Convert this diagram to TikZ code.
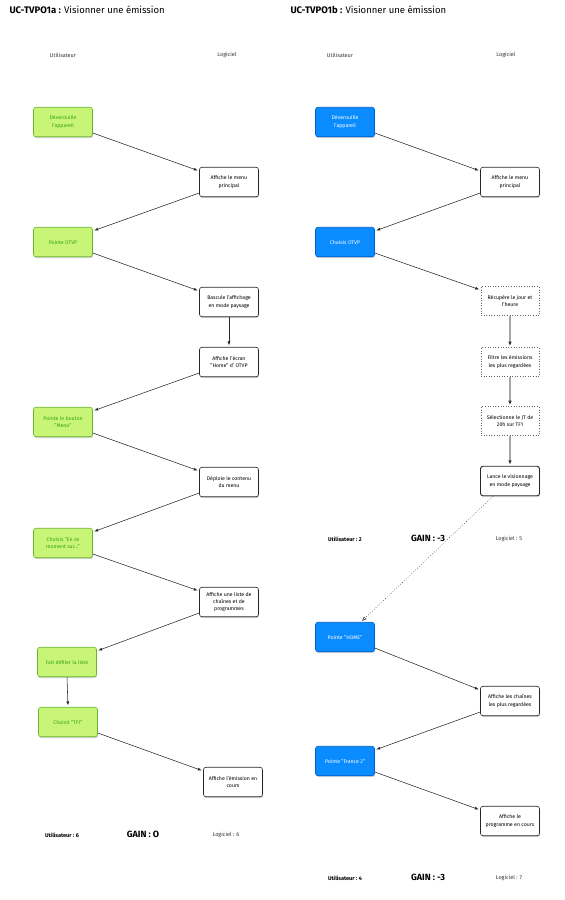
\documentclass[tikz,border=0pt]{standalone}
\usepackage{fontspec}
\setmainfont{Fira Sans}
\usetikzlibrary{shadows,arrows.meta,calc}
\definecolor{ugreen}{RGB}{200,245,120}
\definecolor{ugreenb}{RGB}{105,180,45}
\definecolor{ugreent}{RGB}{55,165,15}
\definecolor{ublue}{RGB}{10,140,255}
\definecolor{ublueb}{RGB}{0,95,200}
\begin{document}
\begin{tikzpicture}[x=1pt,y=-1pt,
  box/.style={rounded corners=2.5pt, minimum width=59pt, minimum height=29.5pt,
    align=center, inner sep=1pt, font=\fontsize{5.2}{7.2}\selectfont,
    drop shadow={opacity=0.35, shadow xshift=0.6pt, shadow yshift=-1.4pt}},
  ubox/.style={box, fill=ugreen, draw=ugreenb, text=ugreent, line width=0.6pt},
  bbox/.style={box, fill=ublue, draw=ublueb, text=white, line width=0.6pt},
  sbox/.style={box, fill=white, draw=black!85, line width=0.6pt},
  dbox/.style={minimum width=58pt, minimum height=29pt, align=center, inner sep=1pt,
    font=\fontsize{5.2}{7.2}\selectfont, draw=black!60, dotted, line width=0.6pt, fill=white},
  conn/.style={-{Latex[length=4pt,width=3pt]}, line width=0.55pt, draw=black!85, shorten >=1.5pt},
  gconn/.style={-{Latex[length=4.5pt,width=3.5pt,color=black!80]}, line width=1.1pt, draw=black!35, shorten >=1pt},
  head/.style={font=\fontsize{5.5}{6}\selectfont, text=black!80},
  score/.style={font=\fontsize{5.5}{6}\selectfont\bfseries},
  lscore/.style={font=\fontsize{5.5}{6}\selectfont, text=black!80},
  gain/.style={font=\fontsize{9}{10}\selectfont\bfseries}
]
\useasboundingbox (0,0) rectangle (565,900);

% ---------- Left ----------
\node[anchor=west] (t1) at (6,10) {\fontsize{9.5}{11}\selectfont\textbf{UC-TVPO1a :} Visionner une émission};
\node[head] (hu1) at (63,55) {Utilisateur};
\node[head] (hl1) at (227,55) {Logiciel};

\node[ubox] (a1) at (63,122) {Déverouille\\l'appareil};
\node[sbox] (b1) at (229,182) {Affiche le menu\\principal};
\node[ubox] (a2) at (63,242) {Pointe OTVP};
\node[sbox] (b2) at (229,302) {Bascule l'affichage\\en mode paysage};
\node[sbox] (b3) at (229,362) {Affiche l'écran\\"Home" d' OTVP};
\node[ubox] (a3) at (63,422) {Pointe le bouton\\"Menu"};
\node[sbox] (b4) at (229,482) {Déploie le contenu\\du menu};
\node[ubox] (a4) at (63,543) {Choisis "En ce\\moment sur…"};
\node[sbox] (b5) at (229,602) {Affiche une liste de\\chaînes et de\\programmes};
\node[ubox] (a5) at (67,662) {Fait défiler la liste};
\node[ubox] (a6) at (68,722) {Choisit "TF1"};
\node[sbox] (b6) at (233,782) {Affiche l'émission en\\cours};

\draw[conn] ($(a1.east)+(0,11)$) -- ($(b1.west)+(0,-11)$);
\draw[conn] ($(b1.west)+(0,11)$) -- ($(a2.east)+(0,-11)$);
\draw[conn] ($(a2.east)+(0,11)$) -- ($(b2.west)+(0,-11)$);
\draw[conn] (b2.south) -- (b3.north);
\draw[conn] ($(b3.west)+(0,11)$) -- ($(a3.east)+(0,-11)$);
\draw[conn] ($(a3.east)+(0,11)$) -- ($(b4.west)+(0,-11)$);
\draw[conn] ($(b4.west)+(0,11)$) -- ($(a4.east)+(0,-11)$);
\draw[conn] ($(a4.east)+(0,11)$) -- ($(b5.west)+(0,-11)$);
\draw[conn] ($(b5.west)+(0,11)$) -- ($(a5.east)+(0,-11)$);
\draw[conn] (a5.south) -- (a6.north);
\draw[conn] ($(a6.east)+(0,11)$) -- ($(b6.west)+(0,-11)$);

\node[score] (u1) at (62,835) {Utilisateur : 6};
\node[gain] (g1) at (143,834) {GAIN : O};
\node[lscore] (l1) at (226,835) {Logiciel : 6};

% ---------- Right ----------
\node[anchor=west] (t2) at (287,10) {\fontsize{9.5}{11}\selectfont\textbf{UC-TVPO1b :} Visionner une émission};
\node[head] (hu2) at (340,55) {Utilisateur};
\node[head] (hl2) at (506,55) {Logiciel};

\node[bbox] (c1) at (345,122) {Déverouille\\l'appareil};
\node[sbox] (d1) at (510,182) {Affiche le menu\\principal};
\node[bbox] (c2) at (345,242) {Choisis OTVP};
\node[dbox] (d2) at (510,301) {Récupère le jour et\\l'heure};
\node[dbox] (d3) at (510,362) {Filtre les émissions\\les plus regardées};
\node[dbox] (d4) at (510,421) {Sélectionne le JT de\\20h sur TF1};
\node[sbox, line width=0.9pt] (d5) at (510,481) {Lance le visionnage\\en mode paysage};
\node[bbox] (c3) at (345,637) {Pointe "HOME"};
\node[sbox] (d6) at (510,701) {Affiche les chaînes\\les plus regardées};
\node[bbox] (c4) at (345,761) {Pointe "France 2"};
\node[sbox] (d7) at (510,821) {Affiche le\\programme en cours};

\draw[conn] ($(c1.east)+(0,11)$) -- ($(d1.west)+(0,-11)$);
\draw[conn] ($(d1.west)+(0,11)$) -- ($(c2.east)+(0,-11)$);
\draw[conn] ($(c2.east)+(0,11)$) -- ($(d2.west)+(0,-11)$);
\draw[gconn] (d2.south) -- (d3.north);
\draw[gconn] (d3.south) -- (d4.north);
\draw[gconn] (d4.south) -- (d5.north);
\draw[dotted, draw=black!75, line width=0.6pt, -{Triangle[open,length=4.5pt,width=3.5pt]}]
  ($(d5.south)+(-17,0)$) -- ($(c3.north)+(17,-1)$);
\draw[conn] ($(c3.east)+(0,11)$) -- ($(d6.west)+(0,-11)$);
\draw[conn] ($(d6.west)+(0,11)$) -- ($(c4.east)+(0,-11)$);
\draw[conn] ($(c4.east)+(0,11)$) -- ($(d7.west)+(0,-11)$);

\node[score] (u2) at (345,539) {Utilisateur : 2};
\node[gain] (g2) at (428,538) {GAIN : -3};
\node[lscore] (l2) at (509,539) {Logiciel : 5};

\node[score] (u3) at (345,878) {Utilisateur : 4};
\node[gain] (g3) at (428,877) {GAIN : -3};
\node[lscore] (l3) at (509,878) {Logiciel : 7};
\end{tikzpicture}
\end{document}
